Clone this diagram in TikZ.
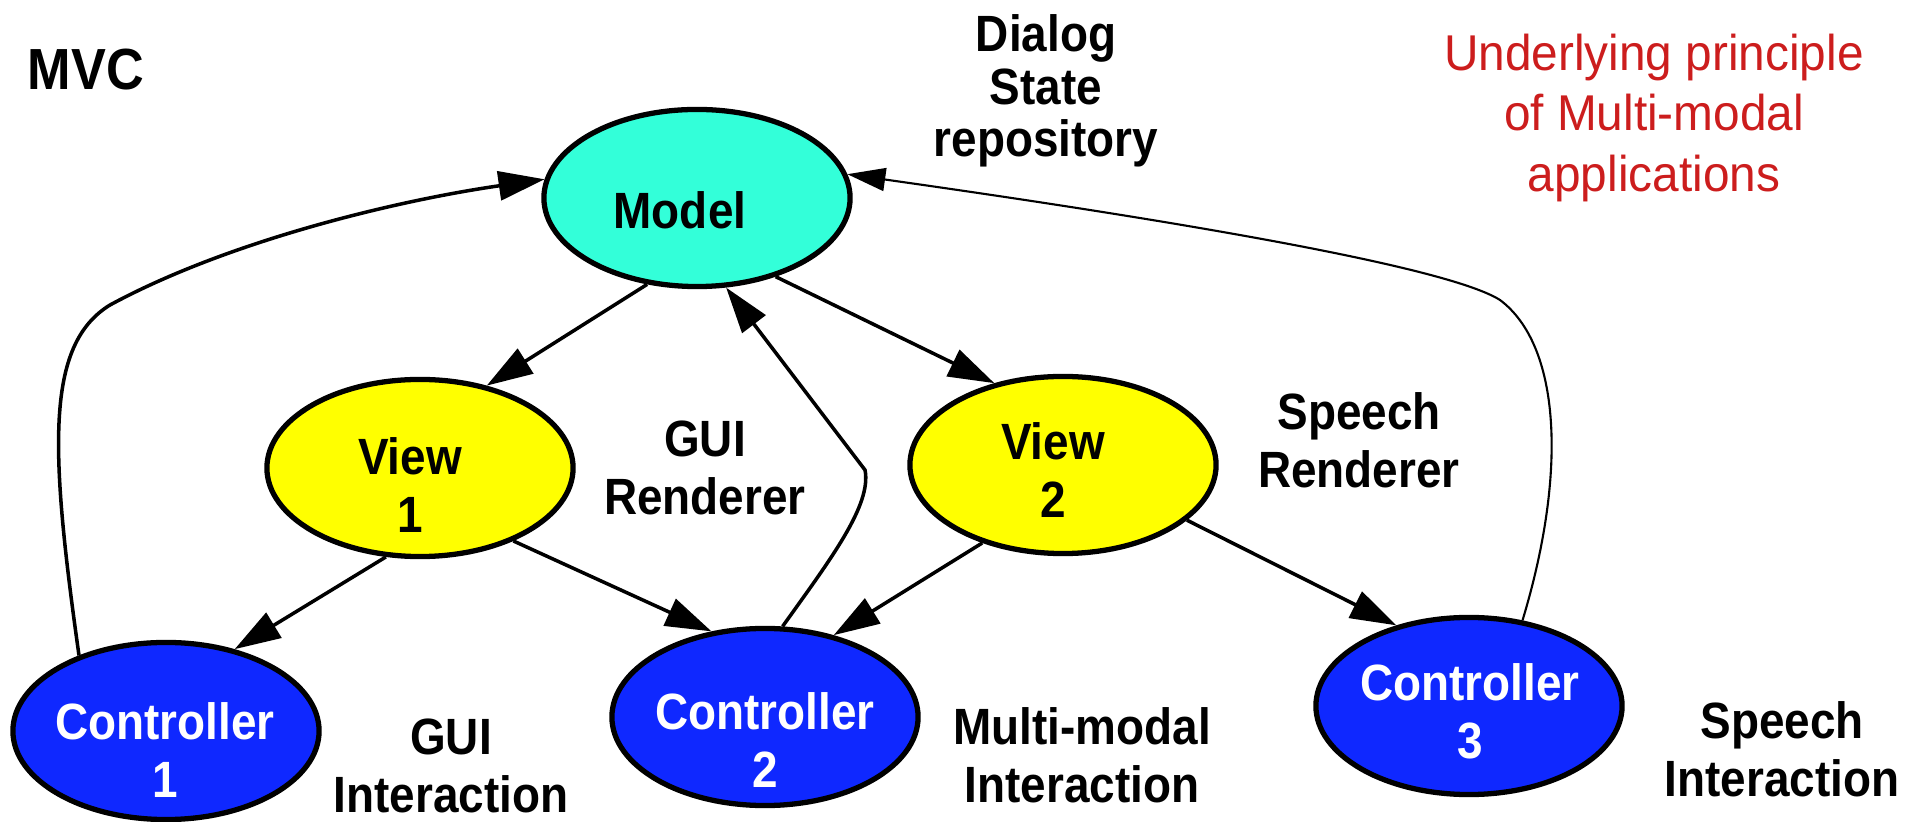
\documentclass[tikz,border=0pt]{standalone}
\usepackage{fontspec}
\setmainfont{Liberation Sans}
\newfontfamily\lblfont[FakeStretch=0.9]{Liberation Sans}
\newfontfamily\redfont[FakeStretch=0.95]{Liberation Sans}
\usetikzlibrary{shapes.geometric,arrows.meta}
\definecolor{modelc}{RGB}{51,255,217}
\definecolor{viewc}{RGB}{255,255,0}
\definecolor{ctrlc}{RGB}{15,40,255}
\definecolor{redtxt}{RGB}{204,29,29}
\tikzset{
  ell/.style={ellipse, draw=black, line width=1.5pt, minimum width=3.06cm, minimum height=1.77cm, inner sep=0pt},
  txt/.style={inner sep=0pt, align=center, font=\lblfont\bfseries\fontsize{14.5}{16.5}\selectfont},
  arr/.style={-{Triangle[length=0.46cm,width=0.29cm]}, line width=1pt},
  thinarr/.style={-{Triangle[length=0.38cm,width=0.23cm]}, line width=0.6pt},
}
\begin{document}
\begin{tikzpicture}[x=0.01cm,y=-0.01cm, line join=round]
\useasboundingbox (0,0) rectangle (1921,822);
% ellipses
\node[ell, fill=modelc] (model) at (697,198) {};
\node[ell, fill=viewc] (v1) at (420,468) {};
\node[ell, fill=viewc] (v2) at (1063,465) {};
\node[ell, fill=ctrlc] (c1) at (166,731) {};
\node[ell, fill=ctrlc] (c2) at (765,717) {};
\node[ell, fill=ctrlc] (c3) at (1469,706) {};
% texts in ellipses
\node[txt] (tmodel) at (680,210) {Model};
\node[txt] (tv1) at (410,485) {View\\1};
\node[txt] (tv2) at (1053,470) {View\\2};
\node[txt, text=white] (tc1) at (165,750) {Controller\\1};
\node[txt, text=white] (tc2) at (765,740) {Controller\\2};
\node[txt, text=white] (tc3) at (1470,711) {Controller\\3};
% free labels
\node[inner sep=0pt, anchor=base west, font=\lblfont\bfseries\fontsize{16.5}{19}\selectfont] (mvc) at (27,90) {MVC};
\node[txt, font=\lblfont\bfseries\fontsize{14.5}{15}\selectfont] (dsr) at (1046,91) {Dialog\\State\\repository};
\node[txt] (guir) at (705,468) {GUI\\Renderer};
\node[txt] (spr) at (1359,440) {Speech\\Renderer};
\node[txt] (guii) at (451,766) {GUI\\Interaction};
\node[txt] (mmi) at (1082,755) {Multi-modal\\Interaction};
\node[txt] (spi) at (1782,749) {Speech\\Interaction};
\node[inner sep=0pt, align=center, text=redtxt, font=\redfont\fontsize{14.3}{17.3}\selectfont] (princ) at (1654,118) {Underlying principle\\of Multi-modal\\applications};
% straight connectors
\draw[arr] (model.240) -- (v1.51);
\draw[arr] (model.315) -- (v2.130);
\draw[arr] (v1.249) -- (c1.50);
\draw[arr] (v1.322) -- (c2.122);
\draw[arr] (v2.224) -- (c2.50);
\draw[arr] (v2.336) -- (c3.132);
% curved connectors
\draw[arr] (c1.139) .. controls (50,450) and (45,345) .. (110,305)
   .. controls (230,240) and (400,200) .. (model.173);
\draw[arr] (c2.79) .. controls (830,560) and (872,505) .. (865,470) -- (model.288);
\draw[thinarr] (c3.58) .. controls (1568,470) and (1560,345) .. (1500,300)
   .. controls (1440,262) and (1100,210) .. (model.9);
\end{tikzpicture}
\end{document}
